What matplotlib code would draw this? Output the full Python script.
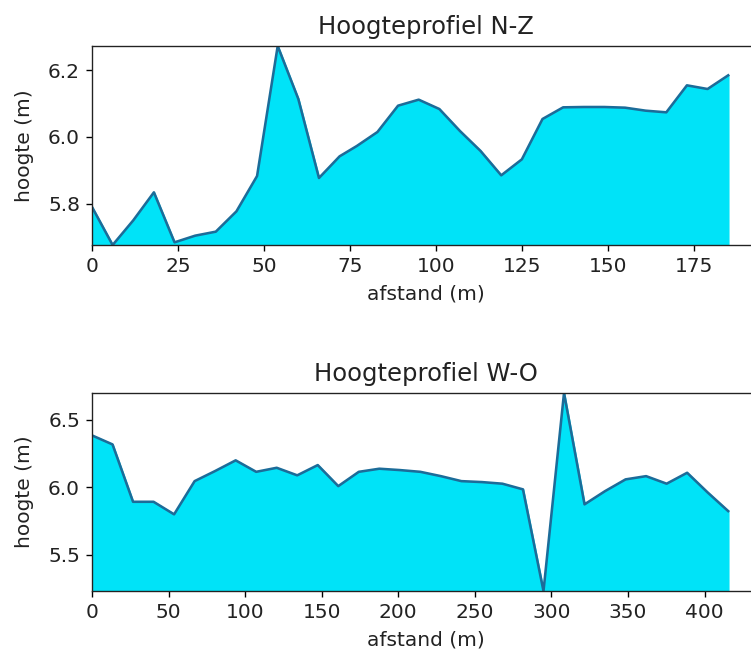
import matplotlib
matplotlib.use("Agg")
from matplotlib import pyplot as plt

# profiel noord-zuid
afstand_nz = [0, 6, 12, 18, 24, 30, 36, 42, 48, 54, 60, 66, 72, 77, 83, 89,
              95, 101, 107, 113, 119, 125, 131, 137, 143, 149, 155, 161,
              167, 173, 179, 185]
hoogte_nz = [5.79, 5.676, 5.75, 5.834, 5.684, 5.704, 5.716, 5.777, 5.883,
             6.273, 6.114, 5.877, 5.942, 5.973, 6.015, 6.094, 6.112, 6.084,
             6.018, 5.958, 5.885, 5.933, 6.054, 6.089, 6.09, 6.09, 6.088,
             6.079, 6.074, 6.155, 6.144, 6.185]

# profiel west-oost
afstand_wo = [0, 13.4, 26.8, 40.2, 53.6, 67, 80.4, 93.8, 107.2, 120.6, 134,
              147.4, 160.8, 174.2, 187.6, 201, 214.4, 227.8, 241.2, 254.6,
              268, 281.4, 294.8, 308.2, 321.6, 335, 348.4, 361.8, 375.2,
              388.6, 402, 415.4]
hoogte_wo = [6.383, 6.316, 5.891, 5.891, 5.798, 6.044, 6.119, 6.198, 6.113,
             6.143, 6.087, 6.163, 6.007, 6.113, 6.136, 6.126, 6.113, 6.081,
             6.044, 6.037, 6.025, 5.983, 5.23, 6.697, 5.872, 5.97, 6.057,
             6.081, 6.025, 6.106, 5.96, 5.822]

plt.rcParams['font.size'] = 11.8
plt.rcParams['axes.titlesize'] = 14.2
plt.rcParams['text.color'] = '#222222'
plt.rcParams['axes.labelcolor'] = '#222222'
plt.rcParams['xtick.labelcolor'] = '#222222'
plt.rcParams['ytick.labelcolor'] = '#222222'
plt.rcParams['axes.edgecolor'] = '#222222'

fig = plt.figure(figsize=(751 / 123, 656 / 123), dpi=123)

W, H = 751, 656
# axes are wider than the picture, right part falls off the edge
ax1 = fig.add_axes([92 / W, 1 - 245 / H, 668 / W, 199 / H])
ax2 = fig.add_axes([92 / W, 1 - 591 / H, 668 / W, 198 / H])


def profiel(ax, x, y, titel):
    ax.plot(x, y, color='#1c6c99')
    ax.fill_between(x, y, min(y), color='#00e3f8')
    ax.set_xlim(left=0)
    ax.set_ylim(min(y), max(y))
    ax.set_title(titel, pad=7)
    ax.set_xlabel('afstand (m)', labelpad=5)
    ax.set_ylabel('hoogte (m)', labelpad=8)


profiel(ax1, afstand_nz, hoogte_nz, 'Hoogteprofiel N-Z')
ax1.set_yticks([5.8, 6.0, 6.2])
ax1.set_xlim(0, 185 * 1.05)

profiel(ax2, afstand_wo, hoogte_wo, 'Hoogteprofiel W-O')
ax2.set_yticks([5.5, 6.0, 6.5])
ax2.set_xlim(0, 415.4 * 1.05)

fig.savefig('out.png', dpi=123)
